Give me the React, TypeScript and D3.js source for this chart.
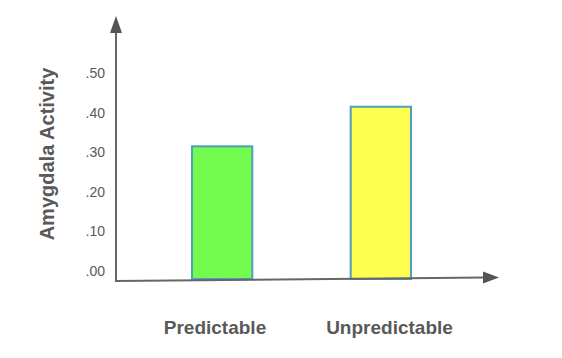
import React from "react";
import * as d3 from "d3";

const categories = ["Predictable", "Unpredictable"];
const values = [0.335, 0.435];
const barColors = ["#74fb4f", "#ffff50"];
const tickValues = [0, 0.1, 0.2, 0.3, 0.4, 0.5];
const tickLabels = [".00", ".10", ".20", ".30", ".40", ".50"];
const yTitle = "Amygdala Activity";

const W = 562;
const H = 358;

export default function App() {
  const y = d3.scaleLinear().domain([0, 0.5]).range([279, 81]);
  const x = d3
    .scaleBand<string>()
    .domain(categories)
    .range([192, 411])
    .paddingInner(0.62)
    .paddingOuter(0);
  const labelX = d3.scalePoint<string>().domain(categories).range([215, 389.5]);

  const axisColor = "#666666";
  const textColor = "#595959";
  const font = "'Liberation Sans', Arial, sans-serif";

  return (
    <svg
      width={W}
      height={H}
      style={{ position: "absolute", left: 0, top: 0, display: "block" }}
      fontFamily={font}
    >
      <rect width={W} height={H} fill="#ffffff" />
      {/* bars */}
      {categories.map((c, i) => (
        <rect
          key={c}
          x={x(c)!}
          y={y(values[i])}
          width={x.bandwidth()}
          height={y(0) - y(values[i])}
          fill={barColors[i]}
          stroke="#4f9dbf"
          strokeWidth={2}
        />
      ))}
      {/* y axis */}
      <line x1={116} y1={281.5} x2={116} y2={30} stroke={axisColor} strokeWidth={2} />
      <path d="M116,16 L110,33 L122,33 Z" fill="#555555" />
      {/* x axis (slightly tilted) */}
      <line x1={115} y1={281} x2={485} y2={277.6} stroke={axisColor} strokeWidth={2} />
      <path d="M499,277.4 L483,271.5 L483,283.5 Z" fill="#555555" />
      {/* tick labels */}
      {tickValues.map((v, i) => (
        <text
          key={v}
          x={105}
          y={y(v) - 8}
          dy="0.35em"
          textAnchor="end"
          fontSize={14}
          fill={textColor}
        >
          {tickLabels[i]}
        </text>
      ))}
      {/* category labels */}
      {categories.map((c) => (
        <text
          key={c}
          x={labelX(c)!}
          y={327}
          dy="0.35em"
          textAnchor="middle"
          fontSize={19}
          fontWeight="bold"
          fill={textColor}
        >
          {c}
        </text>
      ))}
      {/* y title */}
      <text
        transform={`translate(54,154) rotate(-90)`}
        textAnchor="middle"
        fontSize={20}
        fontWeight="bold"
        fill={textColor}
      >
        {yTitle}
      </text>
    </svg>
  );
}
